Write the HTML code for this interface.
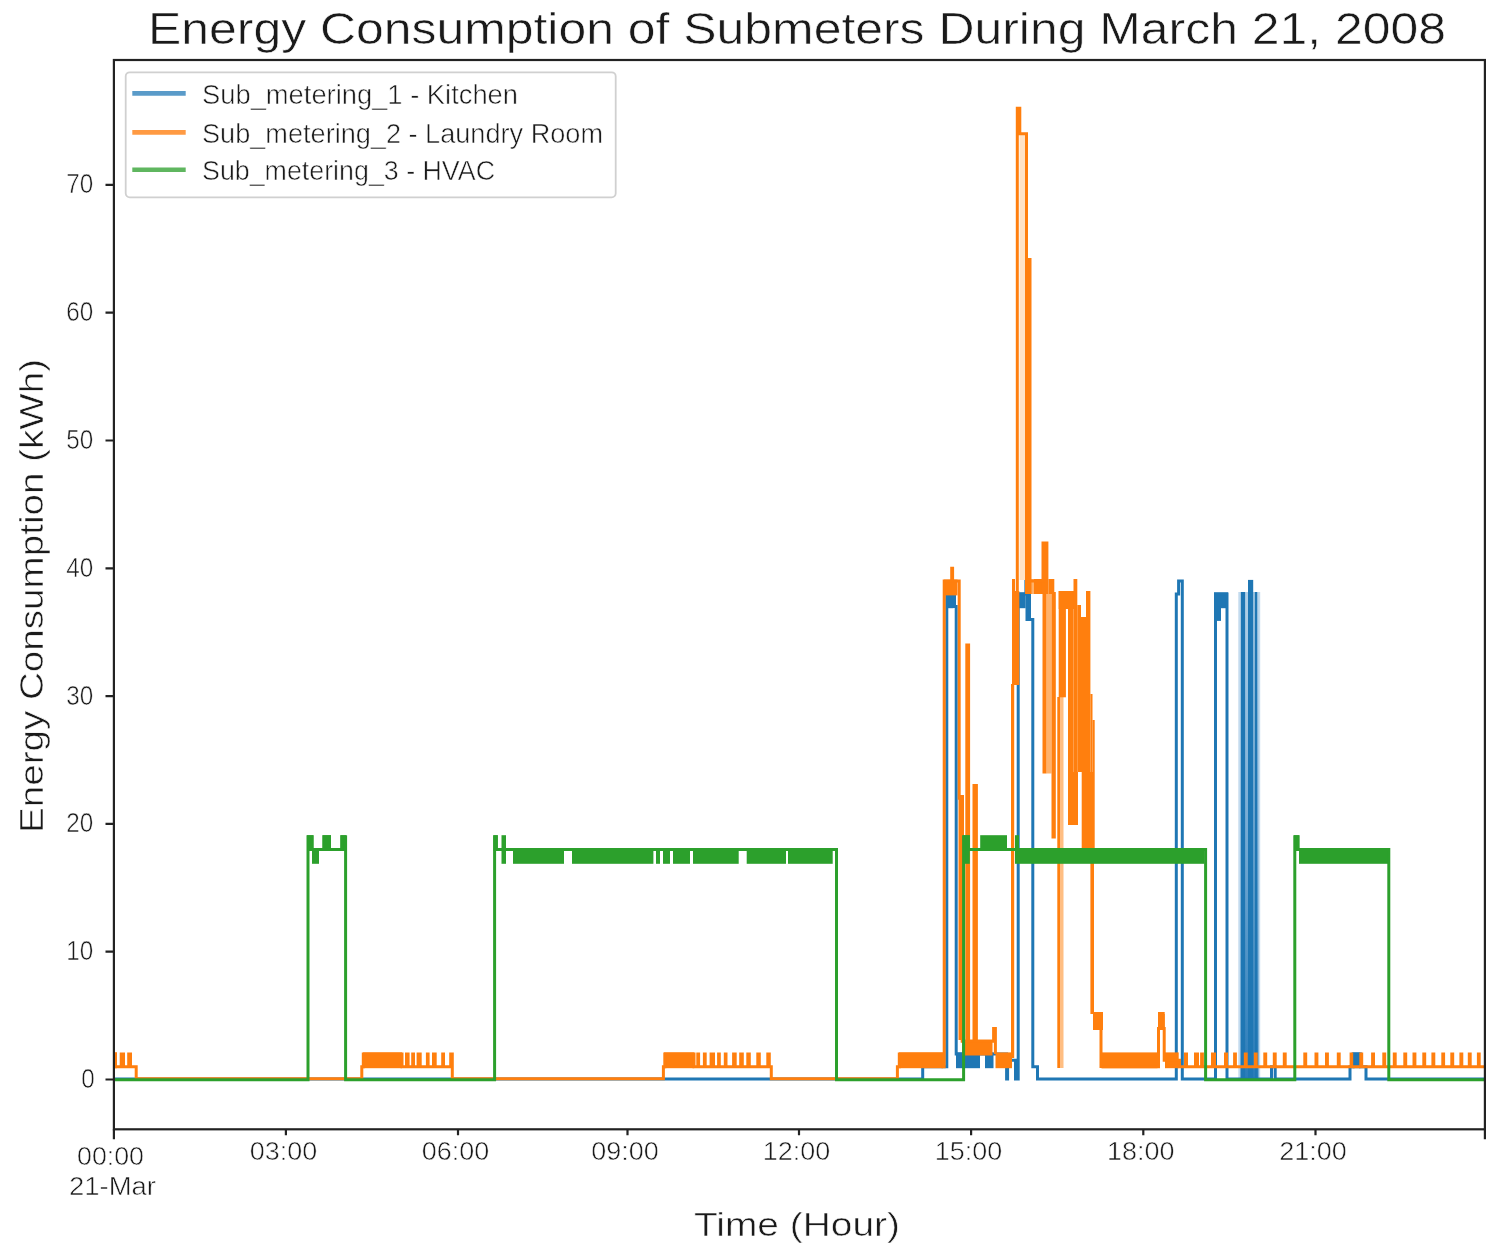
<!DOCTYPE html>
<html><head><meta charset="utf-8"><title>Energy Consumption of Submeters</title>
<style>html,body{margin:0;padding:0;background:#fff;width:1500px;height:1251px;overflow:hidden}svg{display:block;filter:blur(0.5px)}text{font-family:"Liberation Sans", sans-serif}</style>
</head><body>
<svg width="1500" height="1251" viewBox="0 0 1500 1251"><rect x="0" y="0" width="1500" height="1251" fill="#ffffff"/><defs><clipPath id="ax"><rect x="113.9" y="60.0" width="1371.0" height="1069.3"/></clipPath></defs><g clip-path="url(#ax)"><defs><linearGradient id="bg1" x1="0" y1="0" x2="0" y2="1"><stop offset="0" stop-color="#b3d1e8"/><stop offset="0.55" stop-color="#6ea6d1"/><stop offset="1" stop-color="#2a7cb9"/></linearGradient></defs><rect x="1238.3" y="592.0" width="21.9" height="488.0" fill="#c3dbee"/><rect x="1240.5" y="592.0" width="18.0" height="488.0" fill="url(#bg1)"/><rect x="1240.9" y="592.0" width="4.2" height="488.0" fill="#1f77b4"/><rect x="1248.0" y="579.9" width="5.2" height="500.1" fill="#1f77b4"/><rect x="1254.8" y="592.0" width="2.4" height="488.0" fill="#1f77b4"/><rect x="948.0" y="592.4" width="5.5" height="15.8" fill="#1f77b4"/><rect x="956.0" y="1052.4" width="24.0" height="15.8" fill="#1f77b4"/><rect x="985.0" y="1052.4" width="8.5" height="15.8" fill="#1f77b4"/><rect x="1018.0" y="592.4" width="7.6" height="15.8" fill="#1f77b4"/><rect x="1027.0" y="593.9" width="4.0" height="27.1" fill="#1f77b4"/><rect x="1214.0" y="592.4" width="14.0" height="15.8" fill="#1f77b4"/><rect x="1352.5" y="1052.4" width="8.0" height="15.8" fill="#1f77b4"/><rect x="1216.0" y="606.6" width="5.0" height="14.3" fill="#1f77b4"/><path d="M100.0 1079.0H922.7V1066.7H946.8V593.9H954.5V606.6H956.2V1053.9H1006.6V1079.0H1007.6V1060.3H1015.5V1079.0H1018.2V593.9H1025.9V581.1H1027.0V619.4H1032.8V1066.7H1037.5V1079.0H1176.3V593.9H1178.6V581.1H1182.3V1079.0H1215.5V593.9H1227.0V1079.0H1271.5V1066.7H1275.2V1079.0H1350.0V1066.7H1353.0V1053.9H1360.5V1066.7H1366.0V1079.0H1500.0V1079.0" fill="none" stroke="#1f77b4" stroke-width="3.0" stroke-linejoin="miter"/><rect x="1019.5" y="134.0" width="6.0" height="446.0" fill="#ffe3c6"/><rect x="1029.0" y="579.0" width="5.0" height="15.0" fill="#ffb26b"/><rect x="1046.5" y="594.0" width="5.0" height="179.5" fill="#ffb26b"/><rect x="1025.0" y="258.0" width="6.5" height="336.0" fill="#ff7f0e"/><rect x="1011.0" y="684.0" width="3.2" height="374.0" fill="#ff7f0e"/><rect x="1057.3" y="697.0" width="3.2" height="371.0" fill="#ff7f0e"/><rect x="1060.5" y="697.0" width="3.0" height="371.0" fill="#ffbe82"/><rect x="113.9" y="1052.4" width="3.1" height="15.8" fill="#ff7f0e"/><rect x="363.0" y="1052.4" width="39.0" height="15.8" fill="#ff7f0e"/><rect x="664.0" y="1052.4" width="30.2" height="15.8" fill="#ff7f0e"/><rect x="899.0" y="1052.4" width="44.0" height="15.8" fill="#ff7f0e"/><rect x="944.0" y="579.6" width="13.5" height="15.8" fill="#ff7f0e"/><rect x="962.0" y="1039.7" width="30.5" height="15.8" fill="#ff7f0e"/><rect x="995.5" y="1052.4" width="16.5" height="15.8" fill="#ff7f0e"/><rect x="1012.0" y="579.0" width="3.0" height="15.0" fill="#ff7f0e"/><rect x="1012.0" y="591.0" width="7.3" height="94.0" fill="#ff7f0e"/><rect x="1034.0" y="579.0" width="8.0" height="15.0" fill="#ff7f0e"/><rect x="1041.5" y="541.5" width="6.9" height="52.5" fill="#ff7f0e"/><rect x="1042.5" y="594.0" width="4.0" height="179.5" fill="#ff7f0e"/><rect x="1048.4" y="579.0" width="5.9" height="15.0" fill="#ff7f0e"/><rect x="1051.5" y="592.0" width="4.3" height="246.5" fill="#ff7f0e"/><rect x="1058.7" y="591.0" width="7.2" height="106.3" fill="#ff7f0e"/><rect x="1058.7" y="591.0" width="15.3" height="18.0" fill="#ff7f0e"/><rect x="1068.0" y="591.0" width="5.5" height="181.0" fill="#ff7f0e"/><rect x="1073.5" y="579.0" width="3.8" height="193.0" fill="#ff7f0e"/><rect x="1077.3" y="605.0" width="3.7" height="167.0" fill="#ff7f0e"/><rect x="1081.0" y="617.0" width="5.0" height="155.0" fill="#ff7f0e"/><rect x="1086.0" y="591.0" width="4.4" height="181.0" fill="#ff7f0e"/><rect x="1068.0" y="772.0" width="10.0" height="53.0" fill="#ff7f0e"/><rect x="1081.7" y="772.0" width="13.0" height="78.0" fill="#ff7f0e"/><rect x="1090.4" y="694.0" width="2.1" height="78.0" fill="#ff7f0e"/><rect x="1092.5" y="720.0" width="2.2" height="52.0" fill="#ff7f0e"/><rect x="1090.4" y="848.0" width="3.6" height="166.0" fill="#ff7f0e"/><rect x="958.5" y="795.0" width="5.5" height="245.0" fill="#ff7f0e"/><rect x="1093.0" y="1012.0" width="10.0" height="18.0" fill="#ff7f0e"/><rect x="1158.0" y="1012.0" width="6.7" height="18.0" fill="#ff7f0e"/><rect x="1099.5" y="1029.0" width="3.0" height="39.0" fill="#ff7f0e"/><rect x="1102.0" y="1052.4" width="55.5" height="15.8" fill="#ff7f0e"/><rect x="1165.0" y="1052.4" width="13.7" height="15.8" fill="#ff7f0e"/><path d="M100.0 1053.9H115.5V1066.7H121.2V1053.9H123.5V1066.7H128.7V1053.9H130.5V1066.7H136.2V1078.7H361.8V1066.7H363.3V1053.9H402.0V1066.7H406.5V1053.9H408.1V1066.7H412.7V1053.9H413.5V1066.7H418.1V1053.9H420.2V1066.7H427.4V1053.9H428.1V1066.7H433.5V1053.9H435.2V1066.7H442.7V1053.9H443.5V1066.7H450.7V1053.9H452.3V1078.7H663.4V1066.7H664.8V1053.9H694.0V1066.7H697.8V1053.9H698.6V1066.7H704.4V1053.9H705.2V1066.7H711.1V1053.9H713.5V1066.7H718.6V1053.9H719.3V1066.7H725.3V1053.9H726.0V1066.7H733.6V1053.9H735.2V1066.7H740.7V1053.9H742.3V1066.7H747.8V1053.9H749.3V1066.7H757.8V1053.9H759.3V1066.7H767.8V1053.9H769.3V1066.7H771.3V1078.7H897.4V1066.7H899.3V1053.9H943.0V1066.7H944.2V581.1H951.7V568.3H952.6V581.1H959.2V798.3H962.2V1041.2H966.8V645.0H968.6V1041.2H974.0V785.6H976.4V1041.2H993.6V1028.4H995.4V1053.9M1013.5 593.9H1017.3V108.2H1019.8V133.8H1026.5V261.6H1029.5V581.1H1043.5V542.7M1101.2 1066.7H1158.5V1028.4H1160.0V1015.6H1163.2V1028.4H1164.2V1060.3H1179.5V1066.7H1185.5V1053.9H1186.5V1066.7H1195.5V1053.9H1197.5V1066.7H1201.6V1053.9H1202.4V1066.7H1212.5V1053.9H1214.5V1066.7H1225.5V1053.9H1226.5V1066.7H1234.6V1053.9H1235.4V1066.7H1245.3V1053.9H1246.2V1066.7H1255.3V1053.9H1256.2V1066.7H1264.8V1053.9H1265.7V1066.7H1274.3V1053.9H1275.2V1066.7H1284.3V1053.9H1285.2V1066.7H1304.8V1053.9H1305.7V1066.7H1316.0V1053.9H1316.9V1066.7H1326.5V1053.9H1327.4V1066.7H1338.3V1053.9H1339.2V1066.7H1351.1V1053.9H1351.7V1066.7H1360.8V1053.9H1361.7V1066.7H1372.6V1053.9H1373.5V1066.7H1383.8V1053.9H1384.7V1066.7H1394.3V1053.9H1395.2V1066.7H1404.8V1053.9H1405.7V1066.7H1414.0V1053.9H1414.9V1066.7H1423.8V1053.9H1424.7V1066.7H1432.9V1053.9H1433.8V1066.7H1442.8V1053.9H1443.6V1066.7H1451.8V1053.9H1452.7V1066.7H1460.9V1053.9H1461.8V1066.7H1469.3V1053.9H1470.2V1066.7H1478.4V1053.9H1479.2V1066.7H1500.0V1066.7" fill="none" stroke="#ff7f0e" stroke-width="3.0" stroke-linejoin="miter"/><rect x="312.0" y="848.0" width="7.0" height="15.8" fill="#2ca02c"/><rect x="501.5" y="835.2" width="4.5" height="28.6" fill="#2ca02c"/><rect x="307.0" y="835.2" width="6.5" height="15.8" fill="#2ca02c"/><rect x="322.5" y="835.2" width="8.5" height="15.8" fill="#2ca02c"/><rect x="340.4" y="835.2" width="5.6" height="15.8" fill="#2ca02c"/><rect x="493.5" y="835.2" width="4.3" height="15.8" fill="#2ca02c"/><rect x="1294.0" y="835.2" width="5.4" height="15.8" fill="#2ca02c"/><rect x="513.0" y="848.0" width="51.0" height="15.8" fill="#2ca02c"/><rect x="572.0" y="848.0" width="81.4" height="15.8" fill="#2ca02c"/><rect x="656.0" y="848.0" width="4.0" height="15.8" fill="#2ca02c"/><rect x="663.0" y="848.0" width="7.0" height="15.8" fill="#2ca02c"/><rect x="673.0" y="848.0" width="17.0" height="15.8" fill="#2ca02c"/><rect x="693.0" y="848.0" width="45.7" height="15.8" fill="#2ca02c"/><rect x="746.7" y="848.0" width="39.3" height="15.8" fill="#2ca02c"/><rect x="788.0" y="848.0" width="44.7" height="15.8" fill="#2ca02c"/><rect x="1019.0" y="848.0" width="185.5" height="15.8" fill="#2ca02c"/><rect x="1299.0" y="848.0" width="90.7" height="15.8" fill="#2ca02c"/><rect x="963.0" y="835.2" width="6.8" height="28.6" fill="#2ca02c"/><rect x="980.2" y="835.2" width="26.8" height="15.8" fill="#2ca02c"/><rect x="1015.0" y="835.2" width="4.0" height="28.6" fill="#2ca02c"/><path d="M100.0 1079.7H308.0V836.7H312.0V849.5H324.0V836.7H329.5V849.5H341.9V836.7H345.6V1079.7H494.6V836.7H496.3V849.5H836.5V1079.7H963.6V836.7H968.3V849.5H1205.6V1079.7H1294.8V836.7H1297.9V849.5H1388.8V1079.7H1500.0V1079.7" fill="none" stroke="#2ca02c" stroke-width="3.0" stroke-linejoin="miter"/></g><rect x="113.9" y="60.0" width="1371.0" height="1069.3" fill="none" stroke="#222" stroke-width="2.2"/><path d="M105.5 1079.5H113.9 M105.5 951.7H113.9 M105.5 823.9H113.9 M105.5 696.1H113.9 M105.5 568.3H113.9 M105.5 440.5H113.9 M105.5 312.7H113.9 M105.5 184.9H113.9 M113.9 1129.3V1139.3 M285.9 1129.3V1135.3 M458.0 1129.3V1135.3 M627.5 1129.3V1135.3 M799.0 1129.3V1135.3 M971.1 1129.3V1135.3 M1143.3 1129.3V1135.3 M1315.5 1129.3V1135.3 M1484.9 1129.3V1139.3" stroke="#222" stroke-width="2.2" fill="none"/><g fill="#1a1a1a" stroke="#ffffff" stroke-width="0.55" font-family='"Liberation Sans", sans-serif'><text x="94.8" y="1088.0" font-size="27" text-anchor="end" textLength="13.5" lengthAdjust="spacingAndGlyphs" >0</text><text x="93.2" y="960.2" font-size="27" text-anchor="end" textLength="27" lengthAdjust="spacingAndGlyphs" >10</text><text x="93.2" y="832.4" font-size="27" text-anchor="end" textLength="27" lengthAdjust="spacingAndGlyphs" >20</text><text x="93.2" y="704.6" font-size="27" text-anchor="end" textLength="27" lengthAdjust="spacingAndGlyphs" >30</text><text x="93.2" y="576.8" font-size="27" text-anchor="end" textLength="27" lengthAdjust="spacingAndGlyphs" >40</text><text x="93.2" y="449.0" font-size="27" text-anchor="end" textLength="27" lengthAdjust="spacingAndGlyphs" >50</text><text x="93.2" y="321.2" font-size="27" text-anchor="end" textLength="27" lengthAdjust="spacingAndGlyphs" >60</text><text x="93.2" y="193.4" font-size="27" text-anchor="end" textLength="27" lengthAdjust="spacingAndGlyphs" >70</text><text x="283.4" y="1159.8" font-size="26.5" text-anchor="middle" textLength="67.5" lengthAdjust="spacingAndGlyphs" >03:00</text><text x="455.5" y="1159.8" font-size="26.5" text-anchor="middle" textLength="67.5" lengthAdjust="spacingAndGlyphs" >06:00</text><text x="625.0" y="1159.8" font-size="26.5" text-anchor="middle" textLength="67.5" lengthAdjust="spacingAndGlyphs" >09:00</text><text x="796.5" y="1159.8" font-size="26.5" text-anchor="middle" textLength="67.5" lengthAdjust="spacingAndGlyphs" >12:00</text><text x="968.6" y="1159.8" font-size="26.5" text-anchor="middle" textLength="67.5" lengthAdjust="spacingAndGlyphs" >15:00</text><text x="1140.8" y="1159.8" font-size="26.5" text-anchor="middle" textLength="67.5" lengthAdjust="spacingAndGlyphs" >18:00</text><text x="1313.0" y="1159.8" font-size="26.5" text-anchor="middle" textLength="67.5" lengthAdjust="spacingAndGlyphs" >21:00</text><text x="110.5" y="1164.5" font-size="26.5" text-anchor="middle" textLength="67" lengthAdjust="spacingAndGlyphs" >00:00</text><text x="112.5" y="1195" font-size="26.5" text-anchor="middle" textLength="87" lengthAdjust="spacingAndGlyphs" >21-Mar</text><text x="694" y="1236.4" font-size="34" text-anchor="start" textLength="206" lengthAdjust="spacingAndGlyphs" >Time (Hour)</text><text transform="translate(43,833) rotate(-90)" font-size="33.5" textLength="474" lengthAdjust="spacingAndGlyphs">Energy Consumption (kWh)</text><text x="148" y="43.5" font-size="44" text-anchor="start" textLength="1298" lengthAdjust="spacingAndGlyphs" >Energy Consumption of Submeters During March 21, 2008</text></g><rect x="125.7" y="72.3" width="490.00000000000006" height="125.00000000000001" rx="4" ry="4" fill="#ffffff" fill-opacity="0.8" stroke="#d0d0d0" stroke-width="1.8"/><path d="M132.3 93.4H185.7" stroke="#5a9bc9" stroke-width="4.6"/><text x="202" y="103.9" font-size="27" fill="#1a1a1a" stroke="#ffffff" stroke-width="0.55" font-family='"Liberation Sans", sans-serif' textLength="316" lengthAdjust="spacingAndGlyphs">Sub_metering_1 - Kitchen</text><path d="M132.3 132.4H185.7" stroke="#ff9a43" stroke-width="4.6"/><text x="202" y="142.9" font-size="27" fill="#1a1a1a" stroke="#ffffff" stroke-width="0.55" font-family='"Liberation Sans", sans-serif' textLength="401" lengthAdjust="spacingAndGlyphs">Sub_metering_2 - Laundry Room</text><path d="M132.3 169.8H185.7" stroke="#5fb65f" stroke-width="4.6"/><text x="202" y="180.3" font-size="27" fill="#1a1a1a" stroke="#ffffff" stroke-width="0.55" font-family='"Liberation Sans", sans-serif' textLength="293" lengthAdjust="spacingAndGlyphs">Sub_metering_3 - HVAC</text></svg>
</body></html>
